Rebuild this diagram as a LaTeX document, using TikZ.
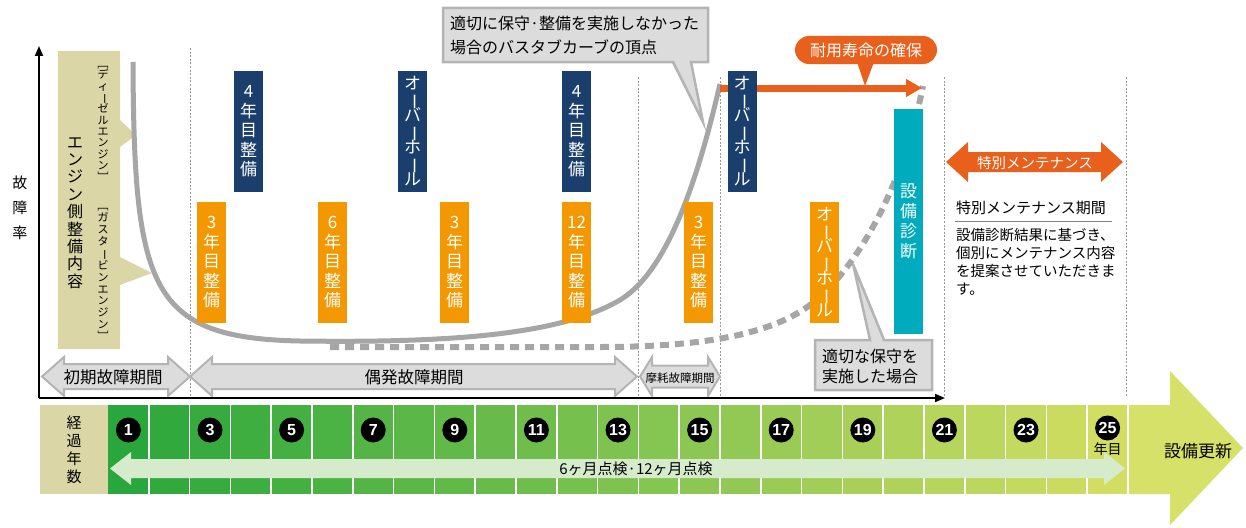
\documentclass[tikz,border=0pt]{standalone}
\usepackage{fontspec}
\setmainfont{Noto Sans CJK JP}
\newfontfamily\numfont{Liberation Sans}
\usepackage{graphicx}
\usepackage{xcolor}
\usetikzlibrary{arrows.meta, positioning, calc}

\definecolor{navy}{HTML}{1B3F6D}
\definecolor{amber}{HTML}{F39800}
\definecolor{rust}{HTML}{E8601C}
\definecolor{teal2}{HTML}{00ABBD}
\definecolor{tan}{HTML}{DBD6A6}
\definecolor{callg}{HTML}{DCDCDC}
\definecolor{callb}{HTML}{B4B4B4}
\definecolor{curveg}{HTML}{A6A6A6}
\definecolor{gStart}{HTML}{2AA73C}
\definecolor{gEnd}{HTML}{D2DE62}
\definecolor{gArrow}{HTML}{D6E16A}
\definecolor{pale}{HTML}{D6EBCC}

\newcommand{\tight}{\lineskiplimit=-20pt\relax}
\newcommand{\vrot}[1]{\rotatebox[origin=c]{-90}{#1}}
\newcommand{\ohaul}{オ\\\vrot{ー}\\バ\\\vrot{ー}\\ホ\\\vrot{ー}\\ル}
% #1 style, #2 left x, #3 right x, #4 centre y, #5 shaft half, #6 head half, #7 head length
\newcommand{\dblarrow}[7]{%
  \path[#1] (#2,#4) -- (#2+#7,#4-#6) -- (#2+#7,#4-#5) -- (#3-#7,#4-#5)
    -- (#3-#7,#4-#6) -- (#3,#4) -- (#3-#7,#4+#6) -- (#3-#7,#4+#5)
    -- (#2+#7,#4+#5) -- (#2+#7,#4+#6) -- cycle;}

\tikzset{
  bar/.style={rectangle, inner sep=0pt, minimum width=29pt, minimum height=121pt,
              text=white, align=center},
  navybar/.style={bar, fill=navy},
  ambbar/.style={bar, fill=amber},
  badge/.style={circle, fill=black, text=white, inner sep=0pt, minimum size=25pt,
                font=\numfont\bfseries\fontsize{16}{16}\selectfont},
  sep/.style={gray!80, line width=0.9pt, dash pattern=on 2pt off 1.6pt},
  call/.style={fill=callg, draw=callb, line width=2.5pt, line join=miter},
  per/.style={fill=callg, draw=callb, line width=2pt},
  axis/.style={line width=1.8pt, -{Triangle[length=10pt, width=8pt]}},
  curve/.style={draw=curveg, line width=5pt},
  vt/.style={align=center, inner sep=0pt}
}

\begin{document}
\begin{tikzpicture}[x=1pt, y=-1pt]
  \useasboundingbox (0,0) rectangle (1246,527);

  % engine side box
  \fill[tan] (58,51) -- (120,51) -- (120,120) -- (136,135) -- (120,147) -- (120,257)
    -- (152,273) -- (120,285) -- (120,349) -- (58,349) -- cycle;
  \node[vt, font=\fontsize{16}{17.4}\selectfont\tight] (eng) at (75,213)
    {エ\\ン\\ジ\\ン\\側\\整\\備\\内\\容};
  \node[vt, font=\fontsize{11}{11.3}\selectfont\tight] (diesel) at (103,120)
    {\vrot{［}\\デ\\ィ\\\vrot{ー}\\ゼ\\ル\\エ\\ン\\ジ\\ン\\\vrot{］}};
  \node[vt, font=\fontsize{11}{11.9}\selectfont\tight] (gas) at (103,271)
    {\vrot{［}\\ガ\\ス\\タ\\\vrot{ー}\\ビ\\ン\\エ\\ン\\ジ\\ン\\\vrot{］}};

  % period separators
  \foreach \x/\y in {190/48, 638/77, 720/77, 944/77, 1126/77}
    \draw[sep] (\x,\y) -- (\x,396);

  % bathtub curves
  \draw[curve] (133,62) .. controls (134,290) and (150,338) .. (300,341)
    .. controls (450,343) and (560,335) .. (620,300)
    .. controls (670,270) and (700,170) .. (720,84);
  \draw[curveg, line width=6pt, dash pattern=on 9pt off 6pt]
    (330,347) -- (600,347) .. controls (700,347) and (770,335) .. (810,305)
    .. controls (850,275) and (900,200) .. (923,86);

  % service life
  \coordinate (peak) at (720,88);
  \coordinate (lifeend) at (922,88);
  \draw[rust, line width=7pt, -{Triangle[length=16pt, width=17pt]}] (peak) -- (lifeend);
  \node[fill=rust, rounded corners=14pt, minimum width=142pt, minimum height=28pt,
        text=white, font=\fontsize{16}{18}\selectfont] (life) at (866,50) {耐用寿命の確保};
  \fill[rust] (857,62) -- (874,62) -- (865,86) -- cycle;

  % maintenance bars
  \foreach \x/\bs/\t [count=\i] in {248.5/19.5/{4\\年\\目\\整\\備}, 412.5/16/{\ohaul},
      576.5/19.5/{4\\年\\目\\整\\備}, 742/16/{\ohaul}}
    \node[navybar, font=\fontsize{17}{\bs}\selectfont\tight] (nv\i) at (\x,131.5) {\t};
  \foreach \x/\t [count=\i] in {211.5/{3\\年\\目\\整\\備}, 332.5/{6\\年\\目\\整\\備},
      454.5/{3\\年\\目\\整\\備}, 576.5/{12\\年\\目\\整\\備}, 698.5/{3\\年\\目\\整\\備}}
    \node[ambbar, font=\fontsize{17}{19.5}\selectfont\tight] (am\i) at (\x,262.5) {\t};
  \node[ambbar, font=\fontsize{17}{16}\selectfont\tight] (am6) at (824.5,262) {\ohaul};
  \node[bar, fill=teal2, minimum height=225pt, font=\fontsize{17}{20}\selectfont\tight]
    (diag) at (908.5,221) {設\\備\\診\\断};

  % failure periods
  \dblarrow{per}{42}{190}{376.5}{12.5}{19.5}{22}
  \dblarrow{per}{190}{637}{376.5}{12.5}{19.5}{22}
  \dblarrow{per}{640}{720}{376.5}{11}{19.5}{12}
  \node[font=\fontsize{16.5}{18}\selectfont] (early) at (113,377) {初期故障期間};
  \node[font=\fontsize{16.5}{18}\selectfont] (random) at (414,377) {偶発故障期間};
  \node[font=\fontsize{11.5}{13}\selectfont] (wear) at (680,378) {摩耗故障期間};

  % axes
  \coordinate (O) at (39,398);
  \coordinate (ytop) at (39,46);
  \coordinate (xend) at (945,398);
  \draw[axis] (O) -- (ytop);
  \draw[axis] (O) -- (xend);
  \node[vt, font=\fontsize{15}{25}\selectfont\tight] (rate) at (20,208) {故\\障\\率};

  % callouts
  \draw[call] (443,8) -- (708,8) -- (708,62) -- (691,62) -- (703,122) -- (673,62)
    -- (443,62) -- cycle;
  \node[anchor=west, align=left, inner sep=0pt, font=\fontsize{16}{24}\selectfont]
    (topnote) at (450,35) {適切に保守·整備を実施しなかった\\場合のバスタブカーブの頂点};
  \draw[call] (815,340) -- (870,340) -- (853,264) -- (884,340) -- (932,340)
    -- (932,390) -- (815,390) -- cycle;
  \node[anchor=west, align=left, inner sep=0pt, font=\fontsize{16}{20}\selectfont]
    (okay) at (822,366) {適切な保守を\\実施した場合};

  % special maintenance
  \dblarrow{fill=rust}{946}{1123}{162}{10}{20}{22}
  \node[text=white, font=\fontsize{14.5}{16}\selectfont] (spm) at (1035,163) {特別メンテナンス};
  \node[anchor=west, inner sep=0pt, font=\fontsize{15}{17}\selectfont] (spmhead)
    at (956,208) {特別メンテナンス期間};
  \draw[gray, line width=1pt] (955,221) -- (1112,221);
  \node[anchor=north west, align=left, inner sep=0pt, font=\fontsize{14.5}{18}\selectfont]
    (spmtext) at (956,228)
    {設備診断結果に基づき、\\個別にメンテナンス内容\\を提案させていただきま\\す。};

  % elapsed years band
  \fill[tan] (40,405) rectangle (108,494);
  \node[vt, font=\fontsize{15}{18}\selectfont\tight] (elapsed) at (74,450) {経\\過\\年\\数};
  \foreach \n in {1,...,25} {
    \pgfmathtruncatemacro\p{(\n-1)*100/24}
    \colorlet{cellc}{gEnd!\p!gStart}
    \fill[cellc] ({108+(\n-1)*40.8},405) rectangle ({108+\n*40.8},494);
  }
  \foreach \n in {1,...,25}
    \draw[white, line width=1.5pt] ({108+\n*40.8},405) -- ({108+\n*40.8},494);
  \fill[gArrow] (1129,405) -- (1170,405) -- (1170,371) -- (1243,448) -- (1170,525)
    -- (1170,494) -- (1129,494) -- cycle;
  \node[font=\fontsize{17}{19}\selectfont] (renew) at (1198,451) {設備更新};
  \foreach \n in {1,3,...,23}
    \node[badge] (b\n) at ({108+(\n-0.5)*40.8},430) {\n};
  \node[badge] (b25) at (1107.6,428) {25};
  \node[font=\fontsize{14}{15}\selectfont, below=-2pt of b25] (yr) {年目};
  \dblarrow{fill=pale}{110}{1125}{468.5}{9.5}{16.5}{21}
  \node[font=\fontsize{15}{17}\selectfont] (check) at (636,469) {6ヶ月点検·12ヶ月点検};
\end{tikzpicture}
\end{document}
